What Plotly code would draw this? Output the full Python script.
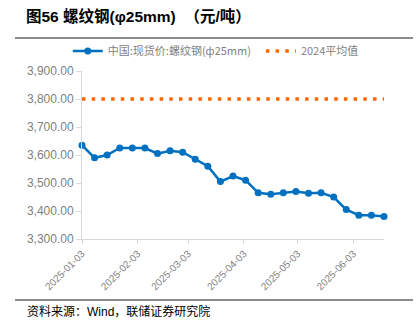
import pandas as pd
import plotly.graph_objects as go

dates = pd.date_range("2025-01-03", "2025-06-20", freq="7D").strftime("%Y-%m-%d").tolist()
rebar_price = [3635, 3590, 3600, 3625, 3625, 3625, 3605, 3615, 3610, 3585,
               3560, 3505, 3525, 3510, 3465, 3460, 3465, 3470, 3463, 3465,
               3450, 3405, 3385, 3385, 3380]
avg_2024 = 3800
tick_dates = ["2025-01-03", "2025-02-03", "2025-03-03", "2025-04-03", "2025-05-03", "2025-06-03"]
y_ticks = [3300, 3400, 3500, 3600, 3700, 3800, 3900]

name_rebar = "中国:现货价:螺纹钢(ф25mm)"
name_avg = "2024平均值"
title_text = "图56 螺纹钢(φ25mm)  （元/吨）"
source_text = "资料来源：Wind，联储证券研究院"

blue = "#0070C0"
orange = "#FF6600"

W, H = 419, 328
L, R, T, B = 82, 35, 71, 89
PW, PH = W - L - R, H - T - B


def px_x(x):
    return (x - L) / PW


def px_y(y):
    return (H - B - y) / PH


fig = go.Figure()
fig.add_trace(go.Scatter(
    x=dates, y=rebar_price, name=name_rebar + "\u00a0\u00a0", mode="lines+markers",
    line=dict(color=blue, width=2.5), marker=dict(color=blue, size=7),
    cliponaxis=False,
))
fig.add_trace(go.Scatter(
    x=dates, y=[avg_2024] * len(dates), name=name_avg, mode="lines",
    line=dict(color=orange, width=3.5, dash="3.5px,6.2px"),
    cliponaxis=False,
))

fig.update_layout(
    width=W, height=H,
    margin=dict(l=L, r=R, t=T, b=B, autoexpand=False),
    paper_bgcolor="white", plot_bgcolor="white",
    font=dict(family="Liberation Sans, Arial, Noto Sans CJK SC", color="#7f7f7f"),
    showlegend=True,
    legend=dict(
        orientation="h", xref="container", yref="container",
        x=0.515, xanchor="center", y=1 - 51 / H, yanchor="middle",
        font=dict(family="Noto Sans CJK SC", size=11, color="#7f7f7f"),
        bgcolor="rgba(0,0,0,0)", itemwidth=30, tracegroupgap=0,
    ),
    xaxis=dict(
        type="date", range=["2025-01-03", "2025-06-20"],
        tickvals=tick_dates, ticktext=tick_dates,
        tickangle=-45, tickfont=dict(size=10, color="#7f7f7f"),
        showgrid=False, zeroline=False,
        showline=True, linecolor="#d9d9d9", linewidth=1,
        ticks="outside", ticklen=4, tickcolor="#d9d9d9",
    ),
    yaxis=dict(
        range=[3300, 3900], tickvals=y_ticks, tickformat=",.2f",
        tickfont=dict(size=12, color="#7f7f7f"),
        showgrid=False, zeroline=False,
        showline=True, linecolor="#d9d9d9", linewidth=1,
        ticks="outside", ticklen=5, tickcolor="#d9d9d9",
    ),
    shapes=[
        dict(type="line", xref="paper", yref="paper",
             x0=px_x(15), x1=px_x(413), y0=px_y(38), y1=px_y(38),
             line=dict(color="#8c8c8c", width=2)),
        dict(type="line", xref="paper", yref="paper",
             x0=px_x(15), x1=px_x(413), y0=px_y(300), y1=px_y(300),
             line=dict(color="#8c8c8c", width=2)),
    ],
    annotations=[
        dict(text="<b>" + title_text + "</b>", xref="paper", yref="paper",
             x=px_x(24), y=px_y(16), xanchor="left", yanchor="middle",
             showarrow=False, font=dict(family="Liberation Sans, Noto Sans CJK SC", size=15.5, color="black")),
        dict(text=source_text, xref="paper", yref="paper",
             x=px_x(25), y=px_y(311), xanchor="left", yanchor="middle",
             showarrow=False, font=dict(family="Liberation Sans, Noto Sans CJK SC", size=12, color="black")),
    ],
)

fig.write_html("out.html")
